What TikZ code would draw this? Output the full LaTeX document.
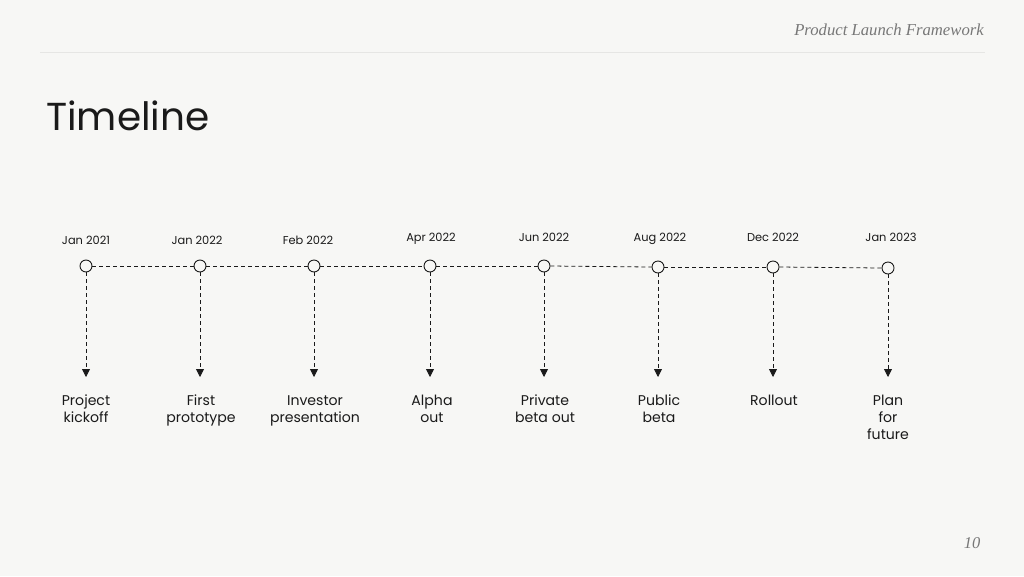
\documentclass[tikz,border=0pt]{standalone}
\usepackage{fontspec}
\setmainfont{Poppins}
\newfontfamily\hdr{Liberation Serif}
\usetikzlibrary{arrows.meta}
\definecolor{bg}{HTML}{F7F7F5}
\definecolor{ink}{HTML}{1A1A1A}
\definecolor{hdrgray}{HTML}{777777}
\definecolor{rule}{HTML}{E6E6E4}
\tikzset{
  dot/.style={circle,draw=ink,fill=bg,line width=0.9pt,minimum size=12pt,inner sep=0pt},
  date/.style={font=\fontsize{11.4}{13}\selectfont,text=ink,anchor=base},
  lbl/.style={font=\fontsize{14.1}{17}\selectfont,text=ink,align=center,anchor=north},
  hdash/.style={draw=ink,line width=0.8pt,dash pattern=on 4pt off 3pt},
  vdash/.style={draw=ink,line width=0.8pt,dash pattern=on 4pt off 3pt,-{Triangle[length=8pt,width=8pt]}},
}
\begin{document}
\begin{tikzpicture}[x=1pt,y=-1pt]
\useasboundingbox[fill=bg] (0,0) rectangle (1024,576);
\draw[rule,line width=0.8pt] (40,52) -- (985,52);
\node[anchor=base east,font=\hdr\itshape\fontsize{16.7}{19}\selectfont,text=hdrgray,inner sep=0pt] (hdr) at (984,35) {Product Launch Framework};
\node[anchor=base west,font=\fontsize{39}{46}\selectfont,text=ink,inner sep=0pt] (title) at (46,130) {Timeline};
\node[anchor=base,font=\hdr\itshape\fontsize{16.5}{18}\selectfont,text=hdrgray,inner sep=0pt] (pg) at (972,548) {10};
% dots
\foreach \i/\x/\y in {1/86/266,2/200/266,3/314/266,4/430/266,5/544/266,6/658/267,7/773/267,8/888/268}{
  \node[dot] (d\i) at (\x,\y) {};
  \coordinate (e\i) at (\x,377);
  \draw[vdash] (d\i.south) -- (e\i);
}
\foreach \a/\b in {1/2,2/3,3/4,4/5,5/6,6/7,7/8}{
  \draw[hdash] (d\a.east) -- (d\b.west);
}
% dates
\node[date] (t1) at (86,244) {Jan 2021};
\node[date] (t2) at (197,244) {Jan 2022};
\node[date] (t3) at (308,244) {Feb 2022};
\node[date] (t4) at (431,241) {Apr 2022};
\node[date] (t5) at (544,241) {Jun 2022};
\node[date] (t6) at (660,241) {Aug 2022};
\node[date] (t7) at (773,241) {Dec 2022};
\node[date] (t8) at (891,241) {Jan 2023};
% labels
\node[lbl] (l1) at (86,390) {\strut Project\\kickoff};
\node[lbl] (l2) at (201,390) {\strut First\\prototype};
\node[lbl] (l3) at (315,390) {\strut Investor\\presentation};
\node[lbl] (l4) at (432,390) {\strut Alpha\\out};
\node[lbl] (l5) at (545,390) {\strut Private\\beta out};
\node[lbl] (l6) at (659,390) {\strut Public\\beta};
\node[lbl] (l7) at (774,390) {\strut Rollout};
\node[lbl] (l8) at (888,390) {\strut Plan\\for\\future};
\end{tikzpicture}
\end{document}
